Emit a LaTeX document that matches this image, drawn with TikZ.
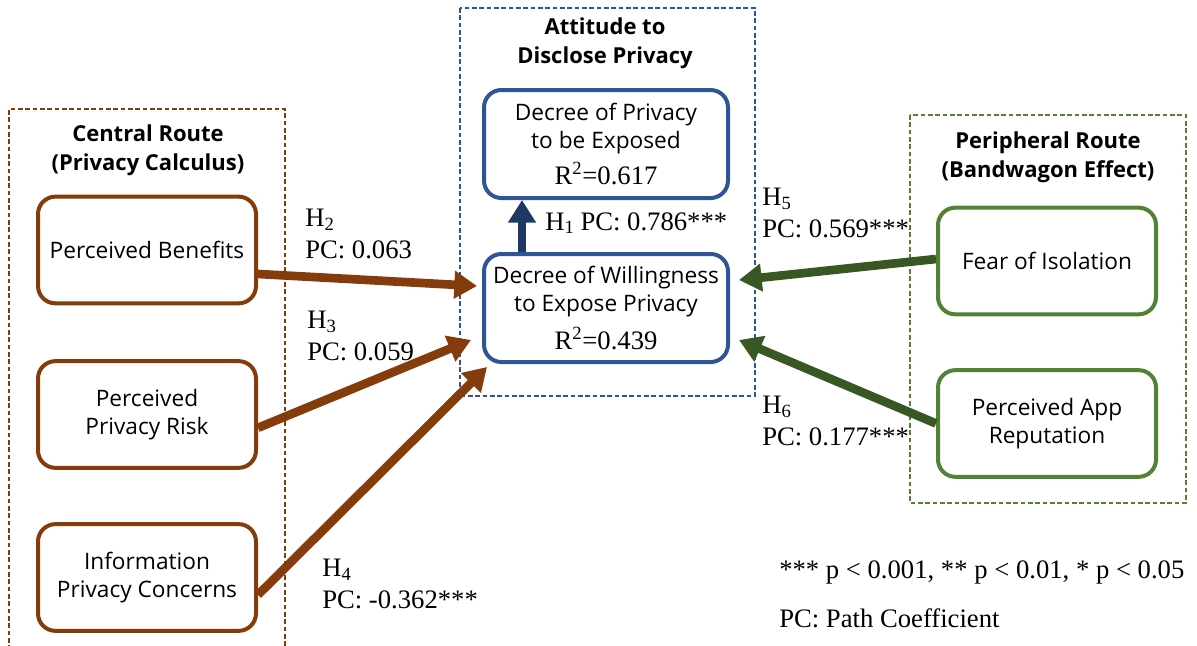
\documentclass[tikz,border=0pt]{standalone}
\usepackage{fontspec}
\setmainfont{Liberation Serif}
\newfontfamily\boxfont{Open Sans}
\usetikzlibrary{arrows.meta}

\definecolor{routebrown}{HTML}{843C0C}
\definecolor{attblue}{HTML}{2F5597}
\definecolor{attnavy}{HTML}{203864}
\definecolor{perigreen}{HTML}{548235}
\definecolor{peridark}{HTML}{385723}

\newcommand{\hyp}[1]{H\raisebox{-0.3ex}{\fontsize{14}{14}\selectfont #1}}

\begin{document}
\begin{tikzpicture}[x=0.75pt, y=-0.75pt,
	box/.style = {draw, fill=white, line width=3pt, rounded corners=13pt, minimum width=163.5pt, minimum height=80pt, align=center, inner sep=0pt, font=\boxfont\fontsize{17}{21}\selectfont},
	bigbox/.style = {box, minimum width=183pt, minimum height=81pt},
	title/.style = {align=center, inner sep=0pt, font=\boxfont\bfseries\fontsize{16.5}{21.5}\selectfont},
	lbl/.style = {anchor=west, align=left, inner sep=0pt, font=\fontsize{20}{24}\selectfont},
	frame/.style = {line width=1pt, dash pattern=on 3.5pt off 2pt},
	fat/.style = {line width=6.5pt, -{Triangle[length=17pt, width=20pt]}}
	]
	\useasboundingbox (0,0) rectangle (1197,646);
	
	% route frames
	\draw[frame, routebrown] (9,650) -- (9,109) -- (285,109) -- (285,650);
	\draw[frame, attblue] (460,8) rectangle (755,396);
	\draw[frame, perigreen] (910,115) rectangle (1186,503);
	
	\node[title] (central) at (148,150) {Central Route\\(Privacy Calculus)};
	\node[title] (attitude) at (605,43) {Attitude to\\Disclose Privacy};
	\node[title] (peripheral) at (1048,157) {Peripheral Route\\(Bandwagon Effect)};
	
	% constructs
	\node[box, draw=routebrown] (pb) at (147,250) {Perceived Benefits};
	\node[box, draw=routebrown] (ppr) at (147,414.5) {Perceived\\Privacy Risk};
	\node[box, draw=routebrown] (ipc) at (147,577.5) {Information\\Privacy Concerns};
	\node[bigbox, draw=attblue] (dp) at (606,144) {Decree of Privacy\\to be Exposed\\[6.5pt]{\rmfamily\fontsize{20}{21}\selectfont R\textsuperscript{2}=0.617}};
	\node[bigbox, draw=attblue] (wdp) at (606,308) {Decree of Willingness\\to Expose Privacy\\[8pt]{\rmfamily\fontsize{20}{21}\selectfont R\textsuperscript{2}=0.439}};
	\node[box, draw=perigreen] (foi) at (1047,261) {Fear of Isolation};
	\node[box, draw=perigreen] (par) at (1047,423.5) {Perceived App\\Reputation};
	
	% paths
	\draw[fat, routebrown] ([yshift=-18pt]pb.east) -- ([xshift=-3.75pt, yshift=16.5pt]wdp.west);
	\draw[fat, routebrown] ([yshift=-10pt]ppr.east) -- ([xshift=-8.25pt, yshift=-24pt]wdp.west);
	\draw[fat, routebrown] ([yshift=-13pt]ipc.east) -- ([xshift=3.75pt, yshift=-2.25pt]wdp.south west);
	\draw[fat, peridark] ([yshift=1.5pt]foi.west) -- ([xshift=6.75pt, yshift=21pt]wdp.east);
	\draw[fat, peridark] (par.west) -- ([xshift=6.75pt, yshift=-24pt]wdp.east);
	\draw[fat, attnavy, line width=6pt] ([xshift=-63pt]wdp.north) -- ([xshift=-63pt]dp.south);
	
	\node[lbl] (h1) at (545,223) {\hyp{1} PC: 0.786***};
	\node[lbl] (h2) at (305,234) {\hyp{2}\\PC: 0.063};
	\node[lbl] (h3) at (307,336) {\hyp{3}\\PC: 0.059};
	\node[lbl] (h4) at (322,584) {\hyp{4}\\PC: -0.362***};
	\node[lbl] (h5) at (762,213) {\hyp{5}\\PC: 0.569***};
	\node[lbl] (h6) at (762,421) {\hyp{6}\\PC: 0.177***};
	
	% notes
	\node[lbl] (sig) at (779,572) {*** p < 0.001, ** p < 0.01, * p < 0.05};
	\node[lbl] (pcnote) at (779,618) {PC: Path Coefficient};
\end{tikzpicture}
\end{document}
